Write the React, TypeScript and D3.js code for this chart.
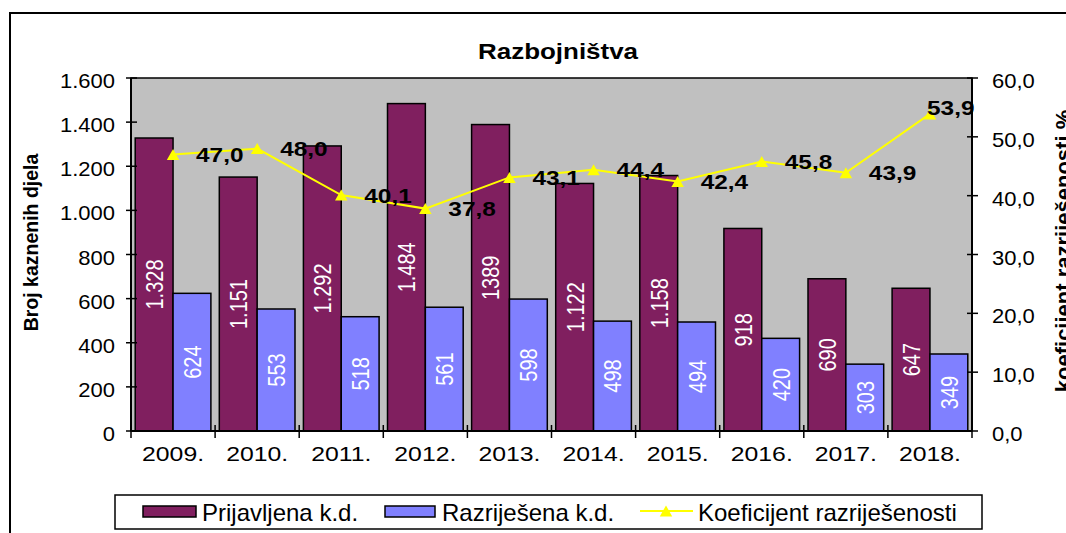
import React from "react";
import * as d3 from "d3";

const years = ["2009.", "2010.", "2011.", "2012.", "2013.", "2014.", "2015.", "2016.", "2017.", "2018."];
const prijavljena = [1328, 1151, 1292, 1484, 1389, 1122, 1158, 918, 690, 647];
const prijavljenaLabels = ["1.328", "1.151", "1.292", "1.484", "1389", "1.122", "1.158", "918", "690", "647"];
const razrijesena = [624, 553, 518, 561, 598, 498, 494, 420, 303, 349];
const koeficijent = [47.0, 48.0, 40.1, 37.8, 43.1, 44.4, 42.4, 45.8, 43.9, 53.9];
const leftTicks = [0, 200, 400, 600, 800, 1000, 1200, 1400, 1600];
const rightTicks = [0, 10, 20, 30, 40, 50, 60];
const seriesNames = ["Prijavljena k.d.", "Razriješena k.d.", "Koeficijent razriješenosti"];

const FONT = "'Liberation Sans', Arial, sans-serif";
const C_P = "#801F5F";
const C_R = "#8080FF";
const C_BG = "#C0C0C0";
const C_L = "#FFFF00";

const loc = d3.formatLocale({ decimal: ",", thousands: ".", grouping: [3], currency: ["", ""] });
const fmtInt = loc.format(",");
const fmt1 = loc.format(".1f");

type TP = {
  x: number; y: number; sx?: number; rot?: number; anchor?: string; size: number;
  weight?: string | number; fill?: string; dy?: string; children: React.ReactNode; ls?: number;
};
function T({ x, y, sx = 1, rot = 0, anchor = "start", size, weight = "normal", fill = "#000", dy, children, ls }: TP) {
  return (
    <text
      transform={`translate(${x},${y}) scale(${sx},1)${rot ? ` rotate(${rot})` : ""}`}
      textAnchor={anchor as any}
      fontSize={size}
      fontWeight={weight as any}
      fontFamily={FONT}
      fill={fill}
      dy={dy}
      letterSpacing={ls}
    >
      {children}
    </text>
  );
}

function tri(cx: number, cy: number, w = 12.5, h = 11) {
  return `M${cx - w / 2},${cy + h / 2}L${cx + w / 2},${cy + h / 2}L${cx},${cy - h / 2}Z`;
}

export default function App() {
  const W = 1066, H = 533;
  const L = 131, R = 972, TOP = 78, B = 431;
  const x = d3.scaleBand<string>().domain(years).range([L, R]).paddingInner(0.1).paddingOuter(0.05);
  const sub = d3.scaleBand<string>().domain(["p", "r"]).range([0, x.bandwidth()]);
  const yL = d3.scaleLinear().domain([0, 1600]).range([B, TOP]);
  const yR = d3.scaleLinear().domain([0, 60]).range([B, TOP]);
  const step = x.step();
  const cx = (i: number) => (x(years[i]) as number) + x.bandwidth() / 2;
  const line = d3.line<number>().x((_, i) => cx(i)).y((d) => yR(d));
  const boundaries = d3.range(years.length + 1).map((i) => L + i * step);

  return (
    <svg width={W} height={H} style={{ display: "block", position: "absolute", left: 0, top: 0 }}>
      <rect x={0} y={0} width={W} height={H} fill="#fff" />
      <rect x={10} y={13} width={1200} height={700} fill="#fff" stroke="#000" strokeWidth={2} />
      {/* title */}
      <T x={558} y={59} sx={1.18} anchor="middle" size={22} weight="bold">Razbojništva</T>
      {/* plot bg */}
      <rect x={L} y={TOP} width={R - L} height={B - TOP} fill={C_BG} stroke="#000" strokeWidth={1.5} />
      {/* bars */}
      {years.map((yr, i) => {
        const x0 = x(yr) as number;
        const xp = x0 + (sub("p") as number);
        const xr = x0 + (sub("r") as number);
        const bw = sub.bandwidth();
        return (
          <g key={yr}>
            <rect x={xp} y={yL(prijavljena[i])} width={bw} height={B - yL(prijavljena[i])} fill={C_P} stroke="#000" strokeWidth={1.5} />
            <rect x={xr} y={yL(razrijesena[i])} width={bw} height={B - yL(razrijesena[i])} fill={C_R} stroke="#000" strokeWidth={1.5} />
          </g>
        );
      })}
      {/* bar labels */}
      {years.map((yr, i) => {
        const x0 = x(yr) as number;
        const bw = sub.bandwidth();
        const xp = x0 + (sub("p") as number) + bw / 2;
        const xr = x0 + (sub("r") as number) + bw / 2;
        const yp = (yL(prijavljena[i]) + B) / 2;
        const yr2 = (yL(razrijesena[i]) + B) / 2;
        return (
          <g key={"l" + yr}>
            <T x={xp} y={yp} sx={1.24} rot={-90} anchor="middle" size={20} fill="#fff" dy="0.36em">{prijavljenaLabels[i]}</T>
            <T x={xr} y={yr2} sx={1.24} rot={-90} anchor="middle" size={20} fill="#fff" dy="0.36em">{fmtInt(razrijesena[i])}</T>
          </g>
        );
      })}
      {/* axes */}
      <line x1={L} y1={TOP} x2={L} y2={B} stroke="#000" strokeWidth={2} />
      <line x1={R} y1={TOP} x2={R} y2={B} stroke="#000" strokeWidth={2} />
      <line x1={L} y1={B} x2={R} y2={B} stroke="#000" strokeWidth={2} />
      {leftTicks.map((t) => (
        <g key={"lt" + t}>
          <line x1={126} x2={137} y1={yL(t)} y2={yL(t)} stroke="#000" strokeWidth={1.5} />
          <T x={115} y={yL(t) + 10} sx={1.1} anchor="end" size={20}>{fmtInt(t)}</T>
        </g>
      ))}
      {rightTicks.map((t) => (
        <g key={"rt" + t}>
          <line x1={967} x2={978} y1={yR(t)} y2={yR(t)} stroke="#000" strokeWidth={1.5} />
          <T x={992} y={yR(t) + 10} sx={1.1} anchor="start" size={20}>{fmt1(t)}</T>
        </g>
      ))}
      {boundaries.map((b, i) => (
        <line key={"xt" + i} x1={b} x2={b} y1={425} y2={438} stroke="#000" strokeWidth={1.5} />
      ))}
      {years.map((yr, i) => (
        <T key={"yl" + yr} x={cx(i)} y={461} sx={1.24} anchor="middle" size={20}>{yr}</T>
      ))}
      {/* line */}
      <path d={line(koeficijent) || ""} fill="none" stroke={C_L} strokeWidth={2} />
      {koeficijent.map((v, i) => (
        <path key={"m" + i} d={tri(cx(i), yR(v))} fill={C_L} />
      ))}
      {koeficijent.map((v, i) => {
        const lw = 46;
        let lx = cx(i) + 23;
        let ly = yR(v) + 7.5;
        if (lx + lw > R) {
          lx = R + 1 - lw;
          ly -= 6.5;
        }
        return (
          <T key={"kl" + i} x={lx} y={ly} sx={1.22} anchor="start" size={20} weight="bold">{fmt1(v)}</T>
        );
      })}
      {/* axis titles */}
      <T x={38} y={(TOP + B) / 2 - 12} rot={-90} sx={1.05} anchor="middle" size={19.5} weight="bold">Broj kaznenih djela</T>
      <T x={1071} y={251} rot={-90} anchor="middle" size={22} weight="bold">koeficijent razriješenosti %</T>
      {/* legend */}
      <rect x={115} y={495} width={867} height={34} fill="#fff" stroke="#000" strokeWidth={1.5} />
      <rect x={143} y={506} width={53} height={11} fill={C_P} stroke="#000" strokeWidth={1.5} />
      <T x={202} y={521} size={24}>{seriesNames[0]}</T>
      <rect x={385} y={506} width={50} height={11} fill={C_R} stroke="#000" strokeWidth={1.5} />
      <T x={442} y={521} size={24}>{seriesNames[1]}</T>
      <line x1={640} x2={693} y1={511} y2={511} stroke={C_L} strokeWidth={2} />
      <path d={tri(666, 511)} fill={C_L} />
      <T x={698} y={521} size={24}>{seriesNames[2]}</T>
    </svg>
  );
}
